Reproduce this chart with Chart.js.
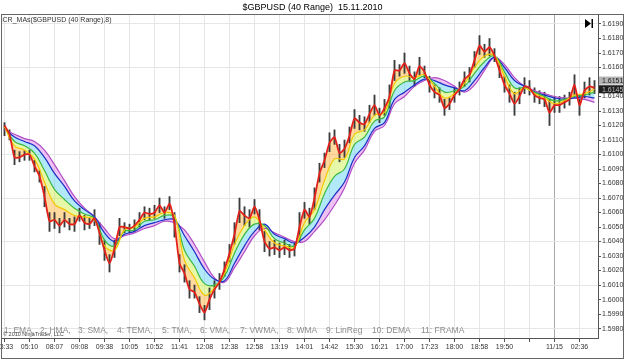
<!DOCTYPE html>
<html>
<head>
<meta charset="utf-8">
<title>$GBPUSD (40 Range) 15.11.2010</title>
<script src="https://cdn.jsdelivr.net/npm/chart.js@4.4.0/dist/chart.umd.min.js"></script>
<style>
  html, body { margin: 0; padding: 0; background: #fff; }
  canvas { display: block; }
</style>
</head>
<body>
<canvas id="chart" width="625" height="361"></canvas>
<script>
// time axis labels, one every 5 bars ("" = tick without label)
const timeLabels = ["03:33", "05:10", "08:07", "09:08", "09:38", "10:05", "10:52", "11:41",
  "12:08", "12:38", "12:58", "13:19", "14:01", "14:42", "15:30", "16:21", "17:00", "17:23",
  "18:00", "18:58", "19:50", "", "11/15", "02:36"];

const priceTicks = [1.5980, 1.5990, 1.6000, 1.6010, 1.6020, 1.6030, 1.6040, 1.6050, 1.6060,
  1.6070, 1.6080, 1.6090, 1.6100, 1.6110, 1.6120, 1.6130, 1.6140, 1.6150, 1.6160, 1.6170,
  1.6180, 1.6190];

// range bars (high / low)
const barHigh = [
  1.6122, 1.6117, 1.6103, 1.6102, 1.6103, 1.6103, 1.6096, 1.6089, 1.6078, 1.6060,
  1.6060, 1.6056, 1.6060, 1.6056, 1.6057, 1.6063, 1.6058, 1.6056, 1.6062, 1.6053,
  1.6041, 1.6031, 1.6041, 1.6056, 1.6053, 1.6052, 1.6055, 1.6060, 1.6064, 1.6063,
  1.6065, 1.6070, 1.6064, 1.6071, 1.6060, 1.6031, 1.6024, 1.6013, 1.6010, 1.6002,
  1.5996, 1.6008, 1.6013, 1.6018, 1.6026, 1.6038, 1.6053, 1.6070, 1.6064, 1.6062,
  1.6069, 1.6062, 1.6047, 1.6040, 1.6041, 1.6039, 1.6041, 1.6038, 1.6039, 1.6060,
  1.6067, 1.6063, 1.6077, 1.6094, 1.6101, 1.6115, 1.6117, 1.6107, 1.6110, 1.6119,
  1.6131, 1.6127, 1.6126, 1.6134, 1.6141, 1.6132, 1.6138, 1.6148, 1.6165, 1.6162,
  1.6170, 1.6161, 1.6157, 1.6167, 1.6161, 1.6154, 1.6148, 1.6146, 1.6138, 1.6139,
  1.6146, 1.6150, 1.6157, 1.6160, 1.6171, 1.6182, 1.6176, 1.6180, 1.6173, 1.6164,
  1.6154, 1.6148, 1.6143, 1.6146, 1.6153, 1.6151, 1.6146, 1.6144, 1.6143, 1.6138,
  1.6140, 1.6140, 1.6141, 1.6143, 1.6155, 1.6141, 1.6150, 1.6153, 1.6151
];
const barLow = [
  1.6113, 1.6110, 1.6093, 1.6095, 1.6096, 1.6096, 1.6088, 1.6081, 1.6064, 1.6047,
  1.6049, 1.6046, 1.6050, 1.6048, 1.6047, 1.6054, 1.6048, 1.6049, 1.6051, 1.6038,
  1.6027, 1.6019, 1.6029, 1.6044, 1.6046, 1.6046, 1.6047, 1.6050, 1.6055, 1.6055,
  1.6056, 1.6060, 1.6056, 1.6062, 1.6043, 1.6019, 1.6012, 1.6001, 1.6001, 1.5991,
  1.5986, 1.5993, 1.6001, 1.6007, 1.6016, 1.6026, 1.6038, 1.6053, 1.6051, 1.6050,
  1.6059, 1.6048, 1.6033, 1.6030, 1.6031, 1.6029, 1.6031, 1.6029, 1.6030, 1.6040,
  1.6056, 1.6052, 1.6062, 1.6081, 1.6091, 1.6102, 1.6107, 1.6095, 1.6098, 1.6108,
  1.6118, 1.6117, 1.6116, 1.6122, 1.6127, 1.6122, 1.6127, 1.6132, 1.6151, 1.6154,
  1.6156, 1.6151, 1.6147, 1.6155, 1.6153, 1.6143, 1.6139, 1.6136, 1.6127, 1.6131,
  1.6136, 1.6141, 1.6147, 1.6150, 1.6160, 1.6169, 1.6167, 1.6168, 1.6164, 1.6153,
  1.6143, 1.6136, 1.6127, 1.6135, 1.6142, 1.6141, 1.6136, 1.6135, 1.6133, 1.6120,
  1.6129, 1.6129, 1.6132, 1.6134, 1.6141, 1.6127, 1.6139, 1.6141, 1.6142
];

// fastest average (red), one value per bar
const maRed = [
  1.6120, 1.6114, 1.6098, 1.6098, 1.6100, 1.6100, 1.6092, 1.6085, 1.6071, 1.6054,
  1.6055, 1.6051, 1.6055, 1.6052, 1.6052, 1.6058, 1.6053, 1.6052, 1.6056, 1.6046,
  1.6034, 1.6025, 1.6035, 1.6050, 1.6050, 1.6049, 1.6051, 1.6055, 1.6060, 1.6059,
  1.6060, 1.6065, 1.6060, 1.6066, 1.6052, 1.6025, 1.6018, 1.6007, 1.6005, 1.5997,
  1.5991, 1.6000, 1.6007, 1.6012, 1.6021, 1.6032, 1.6045, 1.6061, 1.6058, 1.6056,
  1.6064, 1.6055, 1.6040, 1.6035, 1.6036, 1.6034, 1.6036, 1.6034, 1.6035, 1.6050,
  1.6062, 1.6057, 1.6070, 1.6087, 1.6096, 1.6108, 1.6112, 1.6101, 1.6104, 1.6113,
  1.6125, 1.6122, 1.6121, 1.6128, 1.6134, 1.6127, 1.6132, 1.6140, 1.6158, 1.6158,
  1.6163, 1.6156, 1.6152, 1.6161, 1.6157, 1.6148, 1.6143, 1.6141, 1.6132, 1.6135,
  1.6141, 1.6145, 1.6152, 1.6155, 1.6165, 1.6175, 1.6171, 1.6174, 1.6168, 1.6158,
  1.6148, 1.6142, 1.6135, 1.6140, 1.6147, 1.6146, 1.6141, 1.6139, 1.6138, 1.6129,
  1.6134, 1.6134, 1.6136, 1.6138, 1.6148, 1.6134, 1.6144, 1.6147, 1.6146
];

// slower averages, one value every second bar
const maYellow = [
  1.6119, 1.6106, 1.6103, 1.6097, 1.6081, 1.6066, 1.6062, 1.6058, 1.6057, 1.6055,
  1.6037, 1.6034, 1.6048, 1.6050, 1.6056, 1.6057, 1.6060, 1.6058, 1.6027, 1.6015,
  1.6003, 1.6008, 1.6018, 1.6038, 1.6051, 1.6057, 1.6048, 1.6039, 1.6037, 1.6036,
  1.6053, 1.6062, 1.6082, 1.6097, 1.6097, 1.6114, 1.6117, 1.6127, 1.6129, 1.6149,
  1.6154, 1.6153, 1.6155, 1.6147, 1.6139, 1.6142, 1.6149, 1.6160, 1.6168, 1.6168,
  1.6154, 1.6142, 1.6146, 1.6142, 1.6139, 1.6135, 1.6137, 1.6141, 1.6142, 1.6145
];
const maGreen = [
  1.6119, 1.6109, 1.6106, 1.6101, 1.6089, 1.6076, 1.6069, 1.6063, 1.6059, 1.6056,
  1.6041, 1.6037, 1.6047, 1.6048, 1.6054, 1.6055, 1.6058, 1.6057, 1.6034, 1.6023,
  1.6011, 1.6010, 1.6016, 1.6032, 1.6045, 1.6052, 1.6051, 1.6042, 1.6039, 1.6037,
  1.6048, 1.6056, 1.6073, 1.6085, 1.6090, 1.6107, 1.6112, 1.6123, 1.6126, 1.6144,
  1.6150, 1.6151, 1.6154, 1.6149, 1.6143, 1.6144, 1.6147, 1.6156, 1.6164, 1.6168,
  1.6157, 1.6146, 1.6146, 1.6143, 1.6140, 1.6137, 1.6138, 1.6140, 1.6141, 1.6143
];
const maBlue = [
  1.6118, 1.6112, 1.6109, 1.6106, 1.6098, 1.6087, 1.6078, 1.6068, 1.6062, 1.6057,
  1.6046, 1.6040, 1.6045, 1.6047, 1.6051, 1.6053, 1.6055, 1.6055, 1.6044, 1.6033,
  1.6021, 1.6014, 1.6013, 1.6025, 1.6037, 1.6047, 1.6052, 1.6045, 1.6042, 1.6039,
  1.6043, 1.6050, 1.6062, 1.6072, 1.6081, 1.6098, 1.6106, 1.6118, 1.6122, 1.6138,
  1.6143, 1.6148, 1.6152, 1.6151, 1.6148, 1.6146, 1.6144, 1.6151, 1.6160, 1.6167,
  1.6160, 1.6151, 1.6147, 1.6143, 1.6141, 1.6139, 1.6138, 1.6139, 1.6140, 1.6139
];
const maViolet = [
  1.6117, 1.6114, 1.6111, 1.6109, 1.6103, 1.6093, 1.6082, 1.6071, 1.6063, 1.6057,
  1.6049, 1.6042, 1.6044, 1.6046, 1.6049, 1.6051, 1.6054, 1.6053, 1.6048, 1.6038,
  1.6026, 1.6015, 1.6012, 1.6022, 1.6033, 1.6044, 1.6049, 1.6046, 1.6043, 1.6040,
  1.6040, 1.6047, 1.6055, 1.6065, 1.6077, 1.6094, 1.6103, 1.6116, 1.6120, 1.6135,
  1.6140, 1.6147, 1.6151, 1.6153, 1.6151, 1.6147, 1.6143, 1.6148, 1.6158, 1.6167,
  1.6162, 1.6153, 1.6147, 1.6144, 1.6142, 1.6140, 1.6139, 1.6139, 1.6138, 1.6136
];

const lastPrices = [1.6151, 1.6145];

const legendItems = ["1: EMA,", "2: HMA,", "3: SMA,", "4: TEMA,", "5: TMA,", "6: VMA,",
  "7: VWMA,", "8: WMA", "9: LinReg", "10: DEMA", "11: FRAMA"];
const legendLeft = [4, 40, 78, 117, 162, 200, 240, 287, 326, 372, 421];

const FONT = '"Liberation Sans", Arial, sans-serif';

function slowPoints(arr) {
  return arr.map((v, k) => ({ x: k * 2, y: v }));
}

const decor = {
  id: "decor",
  afterDraw(chart) {
    const ctx = chart.ctx;
    const area = chart.chartArea;
    const y = chart.scales.y;
    ctx.save();

    ctx.font = "7px " + FONT;
    ctx.fillStyle = "#333";
    ctx.textBaseline = "top";
    ctx.fillText("iCR_MAs($GBPUSD (40 Range),8)", area.left - 1, area.top + 2);

    ctx.textBaseline = "alphabetic";
    ctx.font = "8.5px " + FONT;
    ctx.fillStyle = "#8c8c8c";
    legendItems.forEach((t, i) => ctx.fillText(t, legendLeft[i], area.bottom - 5));

    ctx.font = "5.5px " + FONT;
    ctx.fillStyle = "#444";
    ctx.fillText("\u00a9 2010 NinjaTrader, LLC", area.left + 1, area.bottom - 2);

    // "go to last bar" button
    ctx.fillStyle = "#000";
    ctx.beginPath();
    ctx.moveTo(585, 19);
    ctx.lineTo(591, 23.5);
    ctx.lineTo(585, 28);
    ctx.closePath();
    ctx.fill();
    ctx.fillRect(591.5, 19, 1.5, 9);

    // price markers on the axis
    ctx.font = "7px " + FONT;
    ctx.textBaseline = "middle";
    lastPrices.forEach((p, i) => {
      const py = y.getPixelForValue(p);
      ctx.fillStyle = i === 0 ? "#b4b4b4" : "#1e1e1e";
      ctx.fillRect(area.right + 1, py - 4, 25, 8);
      ctx.fillStyle = i === 0 ? "#222" : "#bbb";
      ctx.fillText(p.toFixed(4), area.right + 4, py + 0.5);
    });

    // outer frame
    ctx.strokeStyle = "#666";
    ctx.lineWidth = 1;
    ctx.strokeRect(1.5, 14.5, 622, 344);
    ctx.restore();
  }
};

new Chart(document.getElementById("chart"), {
  type: "line",
  data: {
    datasets: [
      {
        label: "MA fast",
        data: maRed.map((v, i) => ({ x: i, y: v })),
        borderColor: "#e3211b",
        borderWidth: 1.8,
        pointRadius: 0,
        tension: 0.2,
        fill: false,
        order: 1
      },
      {
        label: "MA 2",
        data: slowPoints(maYellow),
        borderColor: "#f4c800",
        backgroundColor: "rgba(255, 170, 40, 0.45)",
        borderWidth: 1.2,
        pointRadius: 0,
        tension: 0.4,
        fill: 0,
        order: 2
      },
      {
        label: "MA 3",
        data: slowPoints(maGreen),
        borderColor: "#3cb843",
        backgroundColor: "rgba(200, 240, 60, 0.45)",
        borderWidth: 1.2,
        pointRadius: 0,
        tension: 0.4,
        fill: 1,
        order: 3
      },
      {
        label: "MA 4",
        data: slowPoints(maBlue),
        borderColor: "#1b2fc4",
        backgroundColor: "rgba(60, 200, 240, 0.4)",
        borderWidth: 1.2,
        pointRadius: 0,
        tension: 0.4,
        fill: 2,
        order: 4
      },
      {
        label: "MA 5",
        data: slowPoints(maViolet),
        borderColor: "#b04cc4",
        backgroundColor: "rgba(220, 120, 230, 0.45)",
        borderWidth: 1.2,
        pointRadius: 0,
        tension: 0.4,
        fill: 3,
        order: 5
      },
      {
        type: "bar",
        label: "$GBPUSD",
        data: barHigh.map((h, i) => ({ x: i, y: [barLow[i], h] })),
        backgroundColor: "#3c3c3c",
        borderWidth: 0,
        barThickness: 1.2,
        order: 10
      }
    ]
  },
  options: {
    responsive: false,
    animation: false,
    events: [],
    layout: { padding: { left: 2, right: 2, top: 0, bottom: 3 } },
    plugins: {
      legend: { display: false },
      tooltip: { enabled: false },
      filler: { drawTime: "beforeDatasetsDraw" },
      title: {
        display: true,
        text: "$GBPUSD (40 Range)  15.11.2010",
        color: "#000",
        font: { family: FONT, size: 9, weight: "normal" },
        padding: { top: 2, bottom: 2.2 }
      }
    },
    scales: {
      x: {
        type: "linear",
        min: -0.5,
        max: 118.7,
        offset: false,
        afterBuildTicks(scale) {
          scale.ticks = timeLabels.map((_, k) => ({ value: k * 5 }));
        },
        afterFit(scale) {
          scale.height = 20;
          scale.paddingLeft = 0;
          scale.paddingRight = 0;
        },
        ticks: {
          autoSkip: false,
          maxRotation: 0,
          padding: 1,
          color: "#333",
          font: { family: FONT, size: 7 },
          callback: (value, index) => timeLabels[index]
        },
        grid: {
          offset: false,
          color: (c) => (timeLabels[c.index] === "11/15" ? "#a8a8a8" : "#e6e6e6"),
          tickColor: "#555",
          tickLength: 4
        },
        border: { display: true, color: "#555", width: 1 }
      },
      y: {
        position: "right",
        min: 1.59735,
        max: 1.61962,
        afterBuildTicks(scale) {
          scale.ticks = priceTicks.map((v) => ({ value: v }));
        },
        afterFit(scale) {
          scale.width = 25;
          scale.paddingTop = 0;
          scale.paddingBottom = 0;
        },
        ticks: {
          autoSkip: false,
          padding: 1,
          color: "#333",
          font: { family: FONT, size: 7 },
          callback: (value) => value.toFixed(4)
        },
        grid: {
          color: (c) => {
            const steps = Math.round((1.6190 - c.tick.value) * 1000);
            return steps % 3 === 0 ? "#e6e6e6" : "rgba(0,0,0,0)";
          },
          tickColor: "#555",
          tickLength: 3
        },
        border: { display: true, color: "#555", width: 1 }
      }
    }
  },
  plugins: [decor]
});
</script>
</body>
</html>
